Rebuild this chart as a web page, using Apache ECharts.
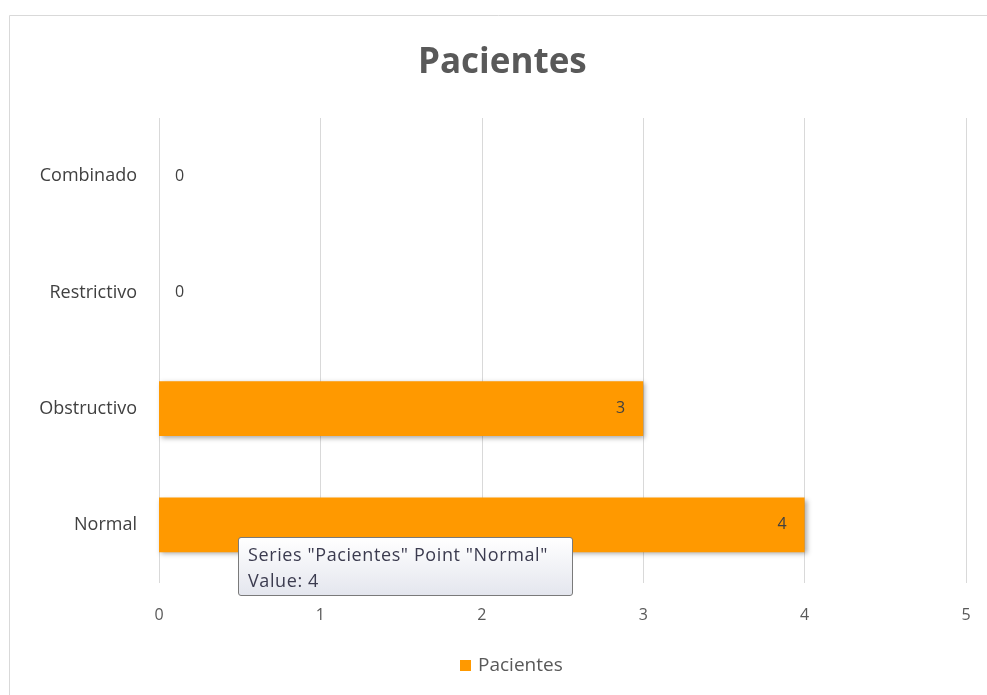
<!DOCTYPE html>
<html>
<head>
<meta charset="utf-8">
<script src="https://cdn.jsdelivr.net/npm/echarts@6/dist/echarts.min.js"></script>
<style>
  html, body { margin: 0; padding: 0; background: #fff; }
  #chart { width: 987px; height: 695px; }
</style>
</head>
<body>
<div id="chart"></div>
<script>
// data (bottom to top)
const categories = [ 'Normal', 'Obstructivo', 'Restrictivo', 'Combinado' ];
const pacientes = [ 4, 3, 0, 0 ];
const seriesName = 'Pacientes';
const xTicks = { min: 0, max: 5, interval: 1 };
const highlighted = 0; // the point that has the tip open

const font = '"Open Sans", "Liberation Sans", sans-serif';
const chart = echarts.init( document.getElementById( 'chart' ), null, { renderer: 'canvas' } );

// zero bars get their label outside, the rest inside the end
const barData = pacientes.map( ( v ) => ( {
	value: v,
	label: v === 0 ? { position: 'right', distance: 16 } : { position: 'insideRight', distance: 18 }
} ) );

chart.setOption( {
	animation: false,
	title: {
		text: 'Pacientes',
		left: 413,
		top: 41,
		textStyle: { fontFamily: font, fontSize: 35, fontWeight: 'bold', color: '#595959' }
	},
	graphic: [ {
		type: 'rect',
		shape: { x: 9.5, y: 15.5, width: 1000, height: 700 },
		style: { fill: 'none', stroke: '#d9d9d9', lineWidth: 1 },
		silent: true
	} ],
	legend: {
		bottom: 15,
		left: 455,
		itemWidth: 11,
		itemHeight: 11,
		icon: 'rect',
		itemGap: 6,
		textStyle: { fontFamily: font, fontSize: 19, color: '#595959', padding: [ 0, 0, 0, 2 ] }
	},
	tooltip: {
		trigger: 'item',
		alwaysShowContent: true,
		triggerOn: 'none',
		transitionDuration: 0,
		position: [ 238, 537 ],
		backgroundColor: 'transparent',
		borderWidth: 0,
		padding: 0,
		extraCssText: 'box-shadow:none;',
		formatter: ( p ) => '<div style="background:linear-gradient(#ffffff,#e4e6ee);border:1px solid #7a7a7a;' +
			'border-radius:3px;padding:3px 8px 2px 9px;font-family:' + font.replace( /"/g, "'" ) + ';font-size:18px;letter-spacing:0.6px;line-height:26px;color:#3b3b4f;width:316px;">' +
			'Series "' + p.seriesName + '" Point "' + p.name + '"<br>Value: ' + p.value + '</div>'
	},
	grid: { left: 159, right: 21, top: 118, bottom: 112, containLabel: false },
	xAxis: {
		type: 'value',
		min: xTicks.min,
		max: xTicks.max,
		interval: xTicks.interval,
		axisLine: { show: false },
		axisTick: { show: false },
		splitLine: { lineStyle: { color: '#d9d9d9', width: 1 } },
		axisLabel: { fontFamily: font, fontSize: 16, color: '#595959', margin: 24 }
	},
	yAxis: {
		type: 'category',
		data: categories,
		axisLine: { show: false },
		axisTick: { show: false },
		axisLabel: { fontFamily: font, fontSize: 18, color: '#404040', margin: 22 }
	},
	series: [ {
		name: seriesName,
		type: 'bar',
		data: barData,
		barWidth: '47%',
		itemStyle: {
			color: '#ff9900',
			shadowColor: 'rgba(0,0,0,0.35)',
			shadowBlur: 5,
			shadowOffsetX: 2,
			shadowOffsetY: 2
		},
		label: {
			show: true,
			fontFamily: font,
			fontSize: 16,
			color: '#404040'
		}
	} ]
} );

chart.dispatchAction( { type: 'showTip', seriesIndex: 0, dataIndex: highlighted } );
</script>
</body>
</html>
